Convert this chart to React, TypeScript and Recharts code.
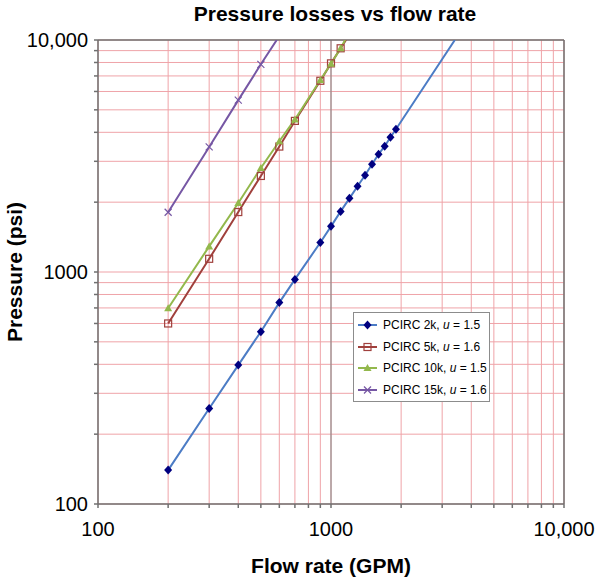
import React from 'react'
import { LineChart, Line, XAxis, YAxis, CartesianGrid, ReferenceLine, Label } from 'recharts'

// flow rate (GPM) and pressure (psi)
const flow2k = [200, 300, 400, 500, 600, 700, 900, 1000, 1100, 1200, 1300, 1400, 1500, 1600, 1700, 1800, 1900]
const psi2k = [140, 258, 397, 553, 738, 929, 1340, 1573, 1825, 2077, 2341, 2612, 2913, 3218, 3486, 3811, 4126]
const flowMid = [200, 300, 400, 500, 600, 700, 900, 1000, 1100]
const psi5k = [600, 1140, 1813, 2594, 3473, 4480, 6672, 7930, 9210]
const psi10k = [698, 1289, 1983, 2808, 3661, 4545, 6719, 7900, 9210]
const flow15k = [200, 300, 400, 500]
const psi15k = [1810, 3460, 5505, 7854]
// flow where each curve runs out of the top of the plot (10,000 psi)
const topFlow2k = 3400
const topFlow5k = 1160
const topFlow10k = 1150
const topFlow15k = 585

const majorTicks = [100, 1000, 10000]
const allTicks = [100, 200, 300, 400, 500, 600, 700, 800, 900, 1000, 2000, 3000, 4000, 5000, 6000, 7000, 8000, 9000, 10000]

const toPoints = (flow: number[], psi: number[], top: number) =>
  [...flow.map((q, i) => ({ q, p: psi[i] })), { q: top, p: 10000, edge: true }]

type Marker = 'diamond' | 'square' | 'triangle' | 'cross'

const series = [
  { key: '5k', name: 'PCIRC 5k, ', u: '1.6', data: toPoints(flowMid, psi5k, topFlow5k), line: '#A0403C', mark: '#A0403C', marker: 'square' as Marker },
  { key: '10k', name: 'PCIRC 10k, ', u: '1.5', data: toPoints(flowMid, psi10k, topFlow10k), line: '#93B84C', mark: '#93B84C', marker: 'triangle' as Marker },
  { key: '15k', name: 'PCIRC 15k, ', u: '1.6', data: toPoints(flow15k, psi15k, topFlow15k), line: '#7657A4', mark: '#7657A4', marker: 'cross' as Marker },
  { key: '2k', name: 'PCIRC 2k, ', u: '1.5', data: toPoints(flow2k, psi2k, topFlow2k), line: '#4C7CC5', mark: '#000080', marker: 'diamond' as Marker },
]
const legendOrder = ['2k', '5k', '10k', '15k']

const fmt = (v: number) => (v === 10000 ? '10,000' : String(v))

const MarkerShape = ({ cx, cy, kind, color }: { cx: number; cy: number; kind: Marker; color: string }) => {
  if (kind === 'diamond')
    return <polygon points={`${cx},${cy - 4.5} ${cx + 4},${cy} ${cx},${cy + 4.5} ${cx - 4},${cy}`} fill={color} />
  if (kind === 'square')
    return <rect x={cx - 3.5} y={cy - 3.5} width={7} height={7} fill="none" stroke={color} strokeWidth={1.2} />
  if (kind === 'triangle')
    return <polygon points={`${cx},${cy - 4} ${cx + 4},${cy + 3} ${cx - 4},${cy + 3}`} fill={color} />
  return (
    <g stroke={color} strokeWidth={1.2}>
      <line x1={cx - 3.5} y1={cy - 3.5} x2={cx + 3.5} y2={cy + 3.5} />
      <line x1={cx - 3.5} y1={cy + 3.5} x2={cx + 3.5} y2={cy - 3.5} />
    </g>
  )
}

const XTick = ({ x, y, payload }: any) =>
  majorTicks.includes(payload.value) ? (
    <text x={x} y={y} dy="0.71em" textAnchor="middle" fontSize={20} fill="#000">{fmt(payload.value)}</text>
  ) : <g />

const YTick = ({ x, y, payload }: any) =>
  majorTicks.includes(payload.value) ? (
    <text x={x} y={y} dy="0.355em" textAnchor="end" fontSize={20} fill="#000">{fmt(payload.value)}</text>
  ) : <g />

export default function App() {
  return (
    <div style={{ position: 'absolute', left: 0, top: 0, width: 597, height: 581, background: '#fff', fontFamily: '"Liberation Sans", Arial, sans-serif' }}>
      <LineChart width={597} height={581} margin={{ top: 40, right: 33, left: 0, bottom: 0 }}>
        <CartesianGrid stroke="#EFA3A8" strokeWidth={1} ticks={allTicks as any} />
        <XAxis dataKey="q" type="number" scale="log" domain={[100, 10000]} allowDataOverflow ticks={allTicks}
          interval={0} height={77} tickSize={4} tickMargin={14} tick={<XTick />}
          stroke="#707070" strokeWidth={1.5}>
          <Label value="Flow rate (GPM)" position="insideBottom" offset={8} fontSize={21} fontWeight="bold" fill="#000" />
        </XAxis>
        <YAxis type="number" scale="log" domain={[100, 10000]} allowDataOverflow ticks={allTicks}
          interval={0} width={98} tickSize={4} tickMargin={6} tick={<YTick />}
          stroke="#707070" strokeWidth={1.5}>
          <Label value="Pressure (psi)" angle={-90} position="insideLeft" offset={15} fontSize={21} fontWeight="bold" fill="#000" style={{ textAnchor: 'middle' }} />
        </YAxis>
        <ReferenceLine x={1000} stroke="#808080" strokeWidth={1} />
        <ReferenceLine x={10000} stroke="#707070" strokeWidth={1.5} />
        <ReferenceLine y={10000} stroke="#707070" strokeWidth={1.5} />
        {series.map((s) => (
          <Line key={s.key} data={s.data} dataKey="p" stroke={s.line} strokeWidth={2} isAnimationActive={false}
            dot={(props: any) =>
              props.payload.edge ? <g key={props.index} /> :
                <MarkerShape key={props.index} cx={props.cx} cy={props.cy} kind={s.marker} color={s.mark} />}
            activeDot={false} />
        ))}
      </LineChart>
      <svg width={597} height={32} style={{ position: 'absolute', left: 0, top: 0 }}>
        <text x={335} y={21} textAnchor="middle" fontSize={21} fontWeight="bold" fill="#000">Pressure losses vs flow rate</text>
      </svg>
      <div style={{ position: 'absolute', left: 353, top: 312, width: 137, height: 90, boxSizing: 'border-box', border: '1px solid #8c8c8c', background: '#fff', paddingTop: 1 }}>
        {legendOrder.map((k) => {
          const s = series.find((d) => d.key === k)!
          return (
            <div key={k} style={{ display: 'flex', alignItems: 'center', height: 21.7, fontSize: 12, color: '#000' }}>
              <svg width={22} height={12} style={{ marginLeft: 3, marginRight: 4 }}>
                <line x1={1} y1={6} x2={20} y2={6} stroke={s.line} strokeWidth={2} />
                <MarkerShape cx={10.5} cy={6} kind={s.marker} color={s.mark} />
              </svg>
              <span>{s.name}<i>u</i> = {s.u}</span>
            </div>
          )
        })}
      </div>
    </div>
  )
}
